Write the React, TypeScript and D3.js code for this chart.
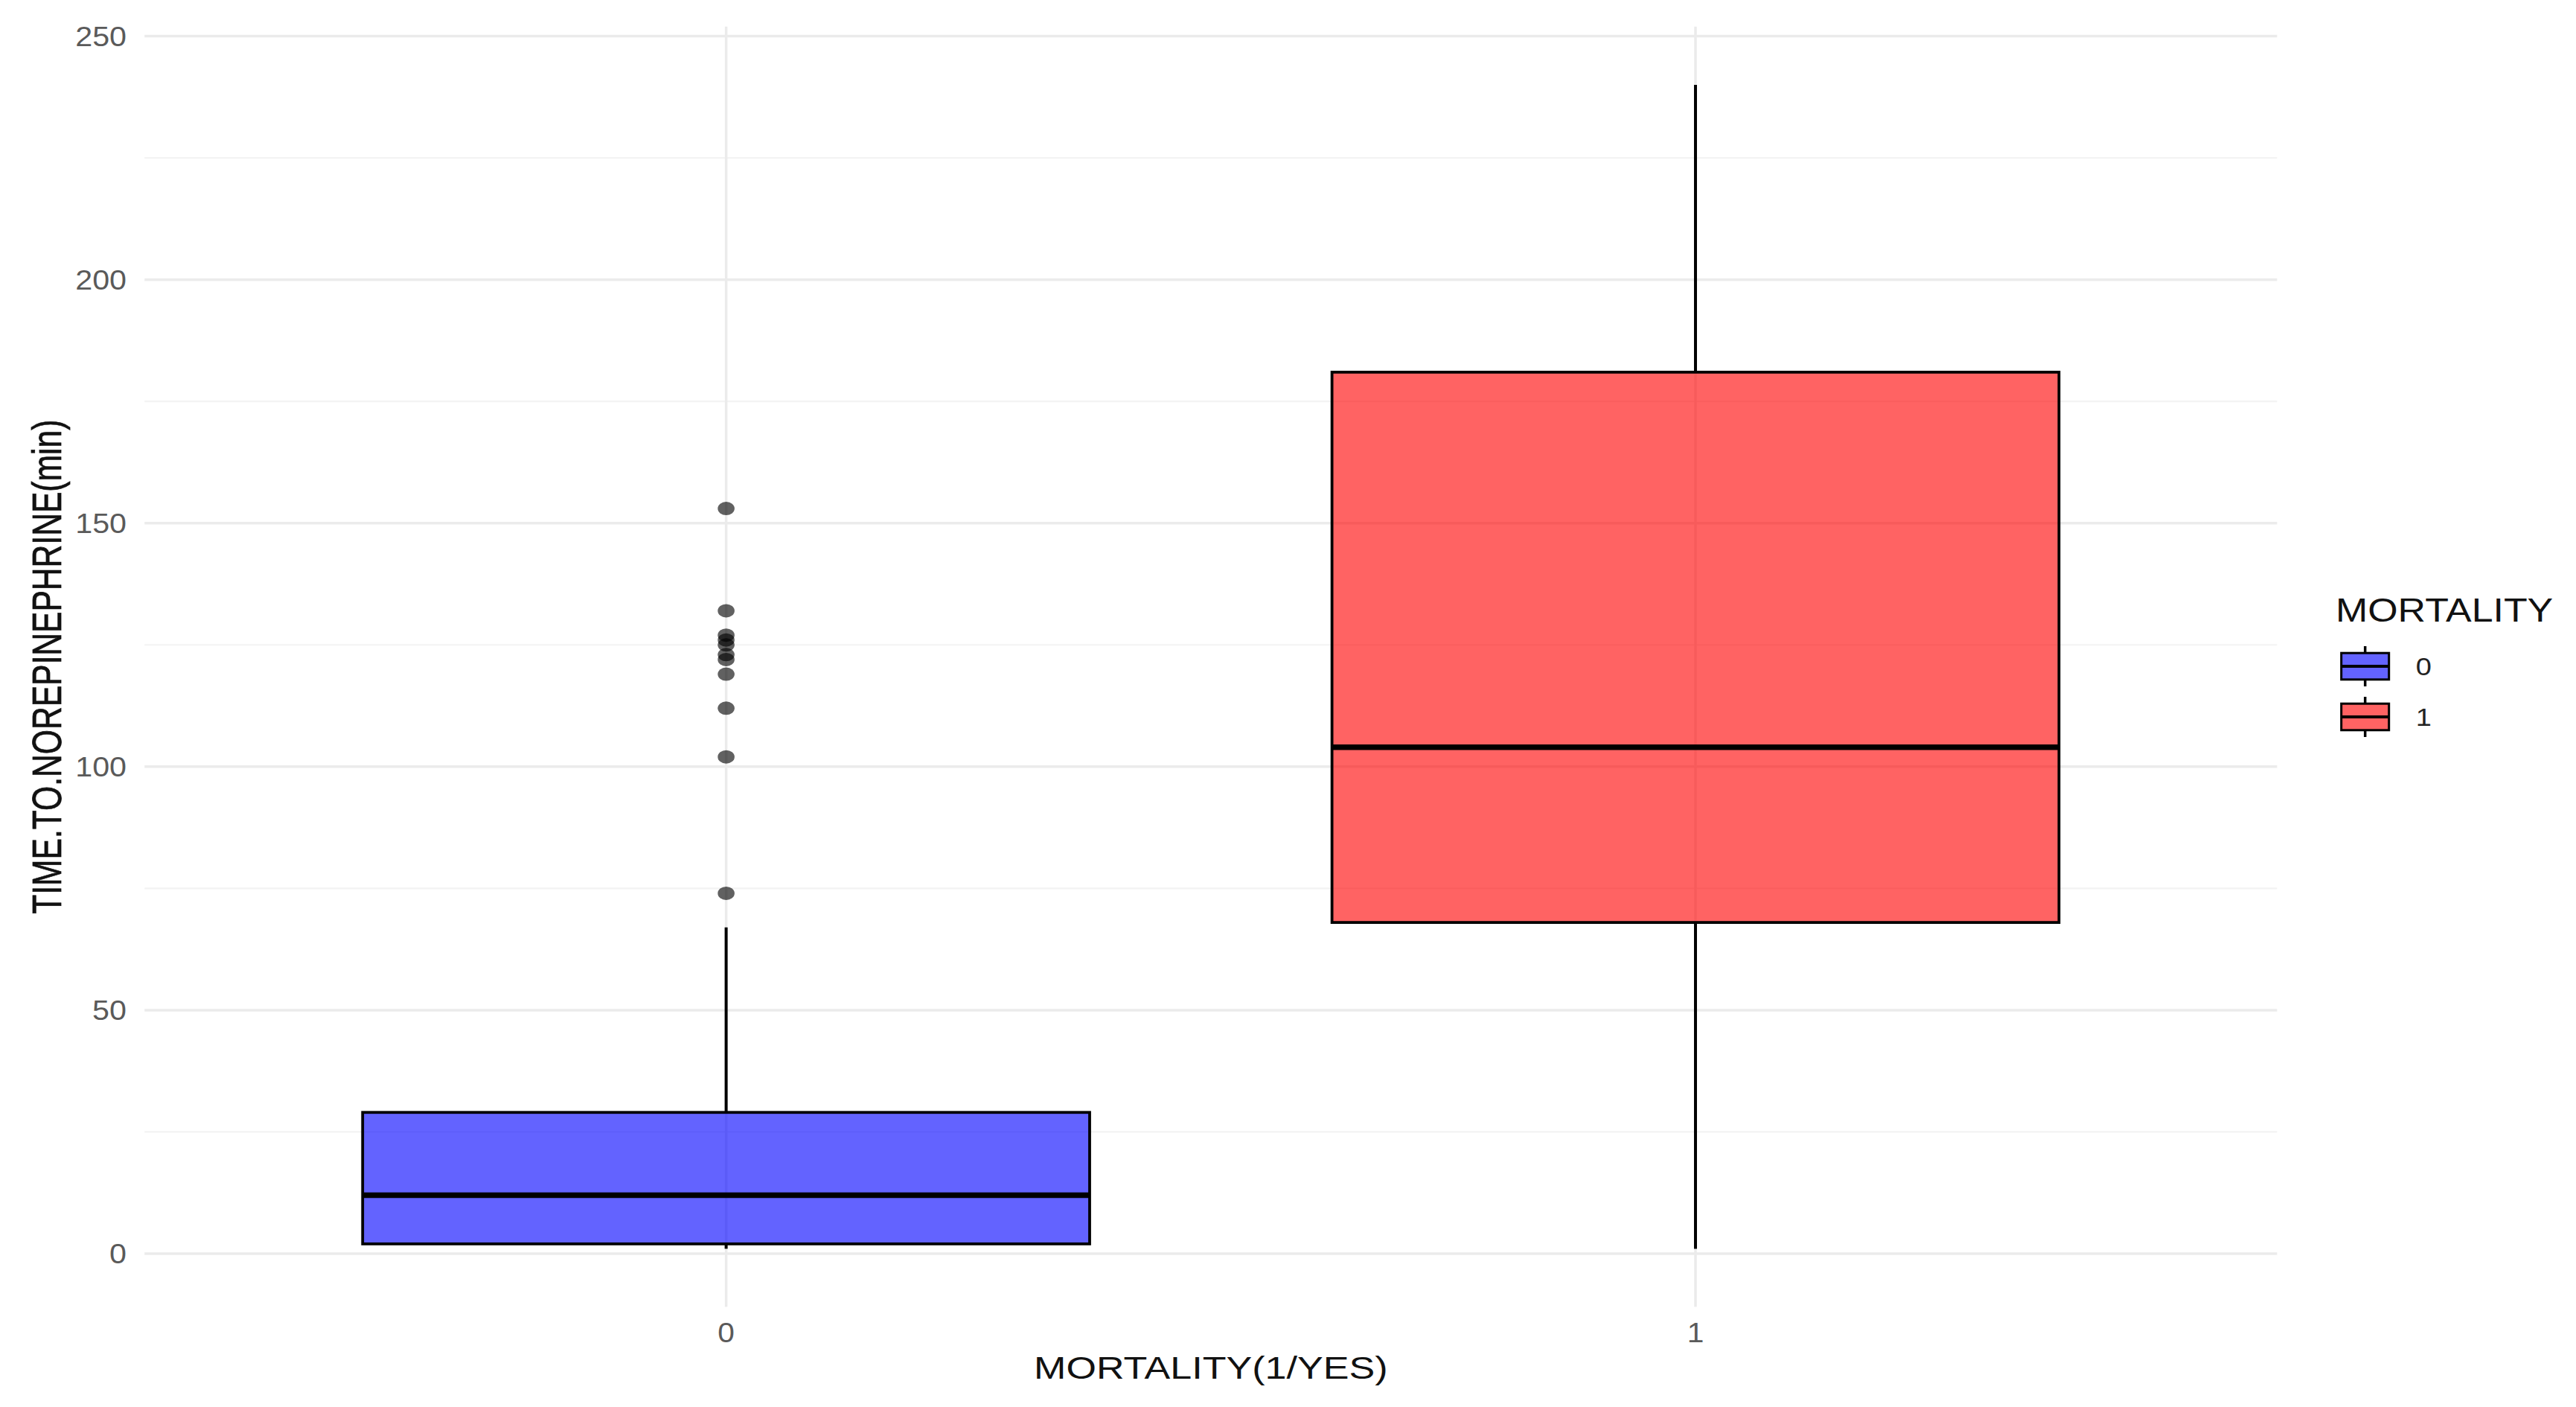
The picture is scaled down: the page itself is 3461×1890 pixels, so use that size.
import React from "react";
import * as d3 from "d3";

const categories = ["0", "1"];
const lowerWhisker = [1, 1];
const q1Values = [2, 68];
const medianValues = [12, 104];
const q3Values = [29, 181];
const upperWhisker = [67, 240];
const outliersGroup0 = [153, 132, 127, 126, 125, 123, 122, 119, 112, 102, 74];
const outliersGroup1: number[] = [];
const fillColors = ["blue", "red"];
const yMajorTicks = [0, 50, 100, 150, 200, 250];
const yMinorTicks = [25, 75, 125, 175, 225];
const xTitle = "MORTALITY(1/YES)";
const yTitle = "TIME.TO.NOREPINEPHRINE(min)";
const legendTitle = "MORTALITY";

const W = 3461;
const H = 1890;
const FONT = "'Liberation Sans', Arial, Helvetica, sans-serif";

export default function App() {
  const panelLeft = 194.2;
  const panelRight = 3059.4;
  const panelTop = 35.8;
  const panelBottom = 1755.6;

  const allVals = [...lowerWhisker, ...upperWhisker, ...outliersGroup0, ...outliersGroup1];
  const lo = d3.min(allVals) as number;
  const hi = d3.max(allVals) as number;
  const pad = (hi - lo) * 0.05;

  const y = d3.scaleLinear().domain([lo - pad, hi + pad]).range([panelBottom, panelTop]);
  const x = d3.scalePoint<string>().domain(categories).range([panelLeft, panelRight]).padding(0.6);
  const step = x.step();
  const boxW = step * 0.75;
  const outliers = [outliersGroup0, outliersGroup1];

  const gridMajor = "#ebebeb";
  const gridMinor = "#f3f3f3";
  const fillOpacity = 0.61;

  const legendX = 3145.7;
  const legendKeyW = 64;
  const legendKeyCenters = [895, 963];
  const legendBoxH = 35.6;

  return (
    <svg width={W} height={H} style={{ position: "absolute", left: 0, top: 0, display: "block", background: "#fff" }}>
      <rect x={0} y={0} width={W} height={H} fill="#fff" />
      {yMinorTicks.map((t) => (
        <line key={"mi" + t} x1={panelLeft} x2={panelRight} y1={y(t)} y2={y(t)} stroke={gridMinor} strokeWidth={2.2} />
      ))}
      {yMajorTicks.map((t) => (
        <line key={"ma" + t} x1={panelLeft} x2={panelRight} y1={y(t)} y2={y(t)} stroke={gridMajor} strokeWidth={3.5} />
      ))}
      {categories.map((c) => (
        <line key={"vg" + c} x1={x(c)} x2={x(c)} y1={panelTop} y2={panelBottom} stroke={gridMajor} strokeWidth={3.5} />
      ))}

      {categories.map((c, i) => {
        const cx = x(c) as number;
        return (
          <g key={"box" + c}>
            <line x1={cx} x2={cx} y1={y(upperWhisker[i])} y2={y(q3Values[i])} stroke="#000" strokeWidth={4} />
            <line x1={cx} x2={cx} y1={y(q1Values[i])} y2={y(lowerWhisker[i])} stroke="#000" strokeWidth={4} />
            <rect
              x={cx - boxW / 2}
              y={y(q3Values[i])}
              width={boxW}
              height={y(q1Values[i]) - y(q3Values[i])}
              fill={fillColors[i]}
              fillOpacity={fillOpacity}
              stroke="#000"
              strokeWidth={3.8}
            />
            <line x1={cx - boxW / 2} x2={cx + boxW / 2} y1={y(medianValues[i])} y2={y(medianValues[i])} stroke="#000" strokeWidth={7.5} />
            {outliers[i].map((v, k) => (
              <ellipse key={k} cx={cx} cy={y(v)} rx={11.3} ry={9} fill="#000" fillOpacity={0.62} />
            ))}
          </g>
        );
      })}

      {yMajorTicks.map((t) => (
        <text
          key={"yl" + t}
          transform={`translate(170,${y(t) + 13.5}) scale(1.1,1)`}
          textAnchor="end"
          fontFamily={FONT}
          fontSize={37.5}
          fill="#5a5a5a"
        >
          {t}
        </text>
      ))}
      {categories.map((c) => (
        <text
          key={"xl" + c}
          transform={`translate(${x(c)},1802.7) scale(1.1,1)`}
          textAnchor="middle"
          fontFamily={FONT}
          fontSize={37}
          fill="#5a5a5a"
        >
          {c}
        </text>
      ))}

      <text
        transform={`translate(${(panelLeft + panelRight) / 2},1851.7) scale(1.24,1)`}
        textAnchor="middle"
        fontFamily={FONT}
        fontSize={42}
        fill="#111"
      >
        {xTitle}
      </text>
      <text
        transform={`translate(82,${(panelTop + panelBottom) / 2}) scale(1.31,1) rotate(-90)`}
        textAnchor="middle"
        fontFamily={FONT}
        fontSize={42.6}
        fill="#111"
        stroke="#111"
        strokeWidth={0.6}
      >
        {yTitle}
      </text>

      <text transform={`translate(3138,835) scale(1.18,1)`} fontFamily={FONT} fontSize={44} fill="#111">
        {legendTitle}
      </text>
      {categories.map((c, i) => {
        const cy = legendKeyCenters[i];
        const kx = legendX + legendKeyW / 2;
        return (
          <g key={"lg" + c}>
            <line x1={kx} x2={kx} y1={cy - 27} y2={cy + 27} stroke="#000" strokeWidth={3.5} />
            <rect x={legendX} y={cy - legendBoxH / 2} width={legendKeyW} height={legendBoxH} fill="#fff" />
            <rect
              x={legendX}
              y={cy - legendBoxH / 2}
              width={legendKeyW}
              height={legendBoxH}
              fill={fillColors[i]}
              fillOpacity={fillOpacity}
              stroke="#000"
              strokeWidth={3}
            />
            <line x1={legendX} x2={legendX + legendKeyW} y1={cy} y2={cy} stroke="#000" strokeWidth={4} />
            <text
              transform={`translate(3245.7,${cy + 12}) scale(1.12,1)`}
              fontFamily={FONT}
              fontSize={34}
              fill="#222"
            >
              {c}
            </text>
          </g>
        );
      })}
    </svg>
  );
}
